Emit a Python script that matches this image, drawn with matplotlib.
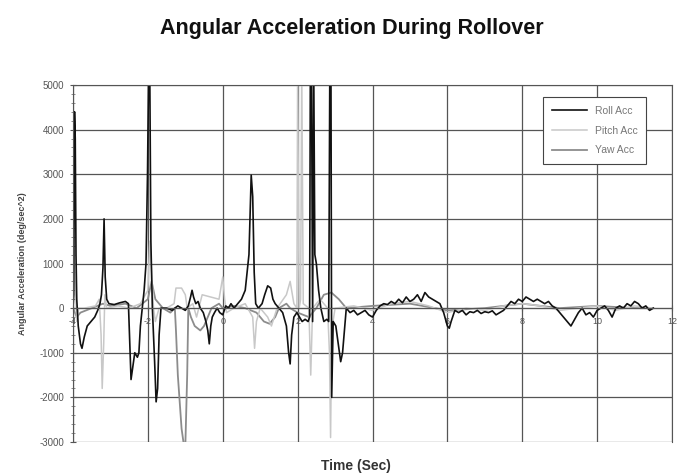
import matplotlib
matplotlib.use("Agg")
import matplotlib.pyplot as plt
from matplotlib.ticker import MultipleLocator
from matplotlib.lines import Line2D

plt.rcParams['font.family'] = ['Liberation Sans', 'DejaVu Sans']
plt.rcParams['axes.unicode_minus'] = False

# roll acceleration (deg/sec^2) against time (sec)
roll_t = [-4.00, -3.98, -3.96, -3.94, -3.92, -3.90, -3.86, -3.80, -3.76, -3.70,
          -3.62, -3.52, -3.42, -3.34, -3.28, -3.24, -3.20, -3.17, -3.14, -3.10,
          -3.04, -2.90, -2.75, -2.60, -2.52, -2.49, -2.45, -2.40, -2.35, -2.28,
          -2.24, -2.20, -2.15, -2.10, -2.05, -2.01, -1.98, -1.95, -1.92, -1.88,
          -1.82, -1.78, -1.74, -1.70, -1.65, -1.50, -1.35, -1.28, -1.20, -1.10,
          -1.00, -0.92, -0.86, -0.82, -0.78, -0.72, -0.66, -0.60, -0.52, -0.45,
          -0.40, -0.36, -0.32, -0.28, -0.22, -0.15, -0.08, 0.00, 0.08, 0.15,
          0.22, 0.30, 0.40, 0.50, 0.60, 0.70, 0.76, 0.80, 0.84, 0.88,
          0.95, 1.05, 1.12, 1.20, 1.28, 1.34, 1.40, 1.50, 1.60, 1.70,
          1.76, 1.80, 1.84, 1.90, 1.98, 2.05, 2.12, 2.20, 2.28, 2.32,
          2.34, 2.37, 2.40, 2.43, 2.46, 2.50, 2.56, 2.62, 2.70, 2.78,
          2.83, 2.86, 2.89, 2.91, 2.95, 3.02, 3.10, 3.15, 3.20, 3.30,
          3.40, 3.50, 3.60, 3.70, 3.80, 3.90, 4.00, 4.10, 4.20, 4.30,
          4.40, 4.50, 4.60, 4.70, 4.80, 4.90, 5.00, 5.10, 5.20, 5.30,
          5.40, 5.50, 5.60, 5.70, 5.80, 5.90, 6.00, 6.05, 6.10, 6.20,
          6.30, 6.40, 6.50, 6.60, 6.70, 6.80, 6.90, 7.00, 7.10, 7.20,
          7.30, 7.40, 7.50, 7.60, 7.70, 7.80, 7.90, 8.00, 8.10, 8.20,
          8.30, 8.40, 8.50, 8.60, 8.70, 8.80, 8.90, 9.00, 9.10, 9.20,
          9.30, 9.40, 9.50, 9.60, 9.70, 9.80, 9.90, 10.00, 10.10, 10.20,
          10.30, 10.40, 10.50, 10.60, 10.70, 10.80, 10.90, 11.00, 11.10, 11.20,
          11.30, 11.40, 11.50]
roll_v = [0, 300, 4400, 3800, 1200, 200, -400, -800, -900, -650,
          -400, -300, -200, -50, 100, 300, 900, 2000, 700, 200,
          100, 80, 120, 150, 100, -600, -1600, -1300, -1000, -1100,
          -1000, -400, 0, 400, 1000, 3000, 5400, 5400, 1500, 0,
          -1200, -2100, -1800, -600, 0, 0, -50, 0, 50, 0,
          -50, 50, 250, 400, 250, 100, 150, 0, -100, -300,
          -500, -800, -400, -200, -100, 0, -100, -150, 50, 0,
          100, 0, 100, 200, 400, 1200, 2980, 2500, 800, 100,
          0, 100, 300, 500, 450, 200, 100, 0, -100, -400,
          -1000, -1250, -600, -200, -100, -200, -300, -250, -300, -200,
          5400, 5400, -300, 5400, 1200, 1000, 400, 0, -300, -250,
          -300, 5400, 5400, -2000, -300, -400, -900, -1200, -1000, 0,
          -100, -50, -150, -100, -50, -150, -200, -50, 50, 100,
          80, 150, 100, 200, 120, 250, 150, 200, 300, 150,
          350, 250, 200, 150, 100, -100, -400, -450, -300, -50,
          -100, -50, -150, -80, -100, -50, -120, -80, -100, -60,
          -150, -100, -50, 50, 150, 100, 200, 150, 250, 200,
          150, 200, 150, 100, 150, 50, 0, -100, -200, -300,
          -400, -250, -100, 0, -150, -100, -200, -50, 0, 50,
          -50, -200, 0, 50, 0, 100, 50, 150, 100, 0,
          50, -50, 0]

# pitch acceleration
pitch_t = [-4.00, -3.97, -3.94, -3.90, -3.85, -3.70, -3.40, -3.30, -3.25, -3.22,
           -3.18, -3.15, -3.10, -2.80, -2.50, -2.20, -2.00, -1.95, -1.90, -1.85,
           -1.80, -1.70, -1.50, -1.30, -1.25, -1.10, -1.00, -0.95, -0.80, -0.70,
           -0.55, -0.10, 0.00, 0.05, 0.10, 0.30, 0.60, 0.80, 0.85, 0.90,
           1.00, 1.20, 1.30, 1.45, 1.70, 1.80, 1.90, 1.98, 2.00, 2.04,
           2.08, 2.11, 2.15, 2.30, 2.35, 2.40, 2.60, 2.80, 2.85, 2.88,
           2.91, 3.00, 3.50, 4.00, 4.50, 5.00, 5.50, 6.00, 6.50, 7.00,
           7.50, 8.00, 8.50, 9.00, 9.50, 10.00, 10.50, 11.00, 11.50]
pitch_v = [0, 1300, 600, -300, 0, 0, 50, 200, -600, -1800,
           -800, 300, 0, 50, 0, 100, 400, 1500, 800, 0,
           -300, 0, 0, 100, 450, 450, 300, 0, 100, -200,
           300, 200, 700, 200, -100, 0, 100, -200, -900, -300,
           0, -200, -400, 0, 300, 600, 100, 0, 5400, 0,
           200, 5400, 100, 0, -1500, 0, 200, 0, -1000, -2900,
           -500, 0, 50, -50, 100, 150, 50, -100, 0, -50,
           50, 100, 50, -50, 0, 50, -50, 50, 0]

# yaw acceleration
yaw_t = [-4.00, -3.90, -3.80, -3.50, -3.20, -3.00, -2.60, -2.30, -2.00, -1.90,
         -1.80, -1.60, -1.40, -1.28, -1.25, -1.20, -1.15, -1.10, -1.05, -1.00,
         -0.95, -0.92, -0.85, -0.75, -0.60, -0.50, -0.40, -0.30, -0.10, 0.00,
         0.30, 0.60, 0.90, 1.00, 1.10, 1.25, 1.40, 1.50, 1.70, 1.80,
         2.00, 2.30, 2.50, 2.70, 2.90, 3.10, 3.30, 4.00, 5.00, 6.00,
         7.00, 8.00, 9.00, 10.00, 11.00, 11.50]
yaw_v = [0, -200, -100, 0, 100, 50, 100, 0, 200, 600,
         200, 0, -100, 0, -500, -1500, -2100, -2700, -3000, -3100,
         -1500, 0, -200, -400, -500, -400, -200, 0, 100, 0,
         50, 0, -100, -200, -300, -350, -200, 0, 100, 0,
         -100, -200, 0, 300, 350, 200, 0, 50, 100, -50,
         0, 100, 0, 50, 0, 0]

x_ticks = [-4, -2, 0, 2, 4, 6, 8, 10, 12]
y_ticks = [-3000, -2000, -1000, 0, 1000, 2000, 3000, 4000, 5000]

fig = plt.figure(figsize=(6.81, 4.76), dpi=100)
ax = fig.add_axes([0.1072, 0.0714, 0.8796, 0.75])

ax.plot(yaw_t, yaw_v, color='#8c8c8c', lw=1.3)
ax.plot(pitch_t, pitch_v, color='#c8c8c8', lw=1.1)
ax.plot(roll_t, roll_v, color='#111111', lw=1.2)

ax.set_xlim(-4, 12)
ax.set_ylim(-3000, 5000)
ax.set_xticks(x_ticks)
ax.set_yticks(y_ticks)
ax.yaxis.set_minor_locator(MultipleLocator(200))
ax.grid(True, which='major', color='#555555', lw=0.9)

# x axis sits on the zero line, like a spreadsheet chart
ax.spines['bottom'].set_position(('data', 0))
for s in ('bottom', 'top', 'right', 'left'):
    ax.spines[s].set_color('#555555')
ax.tick_params(axis='x', direction='inout', length=5, labelsize=6.5,
               labelcolor='#555555', color='#555555', pad=4)
ax.tick_params(axis='y', which='major', direction='inout', length=5,
               labelsize=7, labelcolor='#555555', color='#555555', pad=4)
ax.tick_params(axis='y', which='minor', direction='inout', length=3,
               color='#777777')

ax.set_ylabel('Angular Acceleration (deg/sec^2)', fontsize=6.5,
              fontweight='bold', color='#444444', labelpad=9)
fig.text(0.523, 0.022, 'Time (Sec)', ha='center', va='center',
         fontsize=10, fontweight='bold', color='#333333')
fig.text(0.516, 0.94, 'Angular Acceleration During Rollover', ha='center',
         va='center', fontsize=15.5, fontweight='bold', color='#111111')

handles = [Line2D([], [], color='#111111', lw=1.2),
           Line2D([], [], color='#c8c8c8', lw=1.1),
           Line2D([], [], color='#8c8c8c', lw=1.3)]
leg = ax.legend(handles, ['Roll Acc', 'Pitch Acc', 'Yaw Acc'],
                loc='upper right', bbox_to_anchor=(0.966, 0.98),
                fontsize=7.5, frameon=True, fancybox=False,
                handlelength=3.4, labelspacing=0.95, borderpad=0.8,
                edgecolor='#444444', framealpha=1)
leg.get_frame().set_linewidth(0.8)
for txt in leg.get_texts():
    txt.set_color('#777777')

fig.savefig('out.png', dpi=100)
